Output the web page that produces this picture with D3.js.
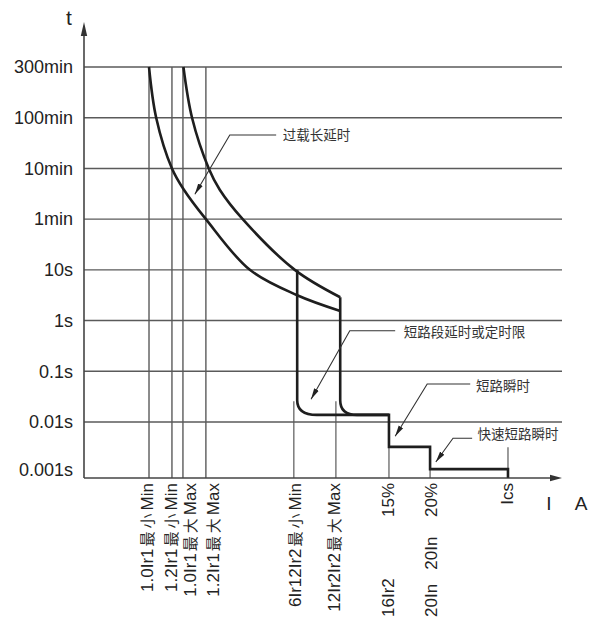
<!DOCTYPE html>
<html>
<head>
<meta charset="utf-8">
<script src="https://cdn.jsdelivr.net/npm/d3@7"></script>
<style>
html,body{margin:0;padding:0;background:#fff;}
svg{display:block;}
text{font-family:"Liberation Sans",Arial,"Noto Sans CJK SC",sans-serif;}
</style>
</head>
<body>
<svg id="chart" width="599" height="621"></svg>
<script>
// ---------- data ----------
const yTickLabels = ["0.001s","0.01s","0.1s","1s","10s","1min","10min","100min","300min"];
const gridLevels = [1,2,3,4,5,6,7,8];

// current positions on a notional axis (0..100)
const longPickups = [13.6, 18.4, 20.7, 25.5];
const longLabelPos = [13.2, 18.1, 22.2, 27.0];
const longLabels = ["1.0Ir1最小Min","1.2Ir1最小Min","1.0Ir1最大Max","1.2Ir1最大Max"];
const shortPickups = [43.9, 52.7];
const shortLabelPos = [44.2, 52.3];
const shortLabels = ["6Ir12Ir2最小Min","12Ir2Ir2最大Max"];
const instPickups = [63.8, 72.4, 88.7];
const instLabelPos = [63.6, 72.6, 88.4];
const instLabels = ["15%","20%","Ics"];
const instLabels2 = ["16Ir2","20In   20In",""];

// overload long-delay curves [current, time-level]
const overloadMin = [[13.6,8],[15.1,7],[18.4,6],[20.9,5.58],[25.5,5],[34.7,4],[44.6,3.5],[53.6,3.19]];
const overloadMax = [[20.8,8],[22.6,7],[26.1,6],[28.4,5.58],[33.2,5],[44.1,4],[53.6,3.46]];

// short-delay / instantaneous step characteristic
const shortMinVert = [[44.6,4.0],[44.6,1.43]];
const shortMinCorner = [[44.6,1.14],[48.7,1.14]];
const shortMaxVert = [[53.6,3.46],[53.6,1.43]];
const shortMaxCorner = [[53.6,1.14],[57.1,1.14]];
const steps = [[63.8,1.14],[63.8,0.51],[72.4,0.51],[72.4,0.07],[88.7,0.07],[88.7,-0.1]];

// annotations: text, arrow tip, elbow, end of horizontal leader
const notes = [
  {text:"过载长延时", tip:[23.2,5.49], elbow:[30.5,6.66], end:[40.2,6.66], at:[41.6,6.66]},
  {text:"短路段延时或定时限", tip:[47.5,1.45], elbow:[55.6,2.80], end:[65.1,2.80], at:[66.9,2.77]},
  {text:"短路瞬时", tip:[65.1,0.72], elbow:[71.8,1.75], end:[80.8,1.75], at:[82.0,1.70]},
  {text:"快速短路瞬时", tip:[73.6,0.21], elbow:[77.2,0.68], end:[81.2,0.68], at:[82.3,0.76]}
];

// ---------- layout ----------
const svg = d3.select("#chart");
const x = d3.scaleLinear().domain([0,100]).range([84,562]);
const y = d3.scaleLinear().domain([0,8]).range([472.7,67]);
const axisLevel = -0.105;
const gridColor = "#5a5a5a";
const inkColor = "#1e1e1e";

// grid lines
svg.append("g").selectAll("line").data(gridLevels).join("line")
  .attr("x1", x(0)).attr("x2", x(100))
  .attr("y1", d => y(d)).attr("y2", d => y(d))
  .attr("stroke", gridColor).attr("stroke-width", 1.4);

// vertical pickup lines
svg.append("g").selectAll("line").data(longPickups).join("line")
  .attr("x1", d => x(d)).attr("x2", d => x(d))
  .attr("y1", y(8)).attr("y2", y(axisLevel))
  .attr("stroke", gridColor).attr("stroke-width", 1.4);
svg.append("g").selectAll("line").data(shortPickups).join("line")
  .attr("x1", d => x(d)).attr("x2", d => x(d))
  .attr("y1", y(1.41)).attr("y2", y(axisLevel))
  .attr("stroke", gridColor).attr("stroke-width", 1.2);
svg.append("g").selectAll("line").data(instPickups).join("line")
  .attr("x1", d => x(d)).attr("x2", d => x(d))
  .attr("y1", y(0.5)).attr("y2", y(axisLevel))
  .attr("stroke", gridColor).attr("stroke-width", 1.2);

// y tick labels
const yAxis = d3.axisLeft(y).tickValues(d3.range(0,9)).tickFormat(i => yTickLabels[i]).tickSize(0).tickPadding(11);
const gy = svg.append("g").attr("transform", `translate(${x(0)},0)`).call(yAxis);
gy.select(".domain").remove();
gy.selectAll("text").attr("font-size", 18).attr("fill", "#222")
  .attr("font-family", "'Liberation Sans',Arial,sans-serif");
gy.selectAll(".tick").filter(d => d===0).select("text").attr("dy","0.15em");

// axes
svg.append("line").attr("x1", x(0)).attr("x2", x(0)).attr("y1", 33).attr("y2", y(axisLevel))
  .attr("stroke", "#444").attr("stroke-width", 1.6);
svg.append("line").attr("x1", x(0)).attr("x2", x(100)-8).attr("y1", y(axisLevel)).attr("y2", y(axisLevel))
  .attr("stroke", "#444").attr("stroke-width", 1.6);
svg.append("path").attr("d", `M${x(0)},22 L${x(0)-3.2},36 L${x(0)+3.2},36 Z`).attr("fill", "#333");
svg.append("path").attr("d", `M${x(100)},${y(axisLevel)} L${x(100)-12},${y(axisLevel)-3.2} L${x(100)-12},${y(axisLevel)+3.2} Z`).attr("fill", "#333");

svg.append("text").attr("x", 69).attr("y", 25).attr("text-anchor","middle")
  .attr("font-size", 21).attr("fill", "#222").text("t");
svg.append("text").attr("x", 549).attr("y", 510).attr("text-anchor","middle")
  .attr("font-size", 19).attr("fill", "#222").text("I");
svg.append("text").attr("x", 581).attr("y", 510).attr("text-anchor","middle")
  .attr("font-size", 19).attr("fill", "#222").text("A");

// curves
const line = d3.line().x(d => x(d[0])).y(d => y(d[1])).curve(d3.curveCatmullRom.alpha(0.5));
[overloadMin, overloadMax].forEach(c => {
  svg.append("path").attr("d", line(c)).attr("fill","none")
    .attr("stroke", inkColor).attr("stroke-width", 2.6);
});

function stepPath(vert, corner, rest) {
  const p = d3.path();
  p.moveTo(x(vert[0][0]), y(vert[0][1]));
  p.lineTo(x(vert[1][0]), y(vert[1][1]));
  p.quadraticCurveTo(x(corner[0][0]), y(corner[0][1]), x(corner[1][0]), y(corner[1][1]));
  rest.forEach(d => p.lineTo(x(d[0]), y(d[1])));
  return p.toString();
}
svg.append("path").attr("d", stepPath(shortMinVert, shortMinCorner, [steps[0]]))
  .attr("fill","none").attr("stroke", inkColor).attr("stroke-width", 2.6);
svg.append("path").attr("d", stepPath(shortMaxVert, shortMaxCorner, steps))
  .attr("fill","none").attr("stroke", inkColor).attr("stroke-width", 2.6).attr("stroke-linejoin","miter");

// annotations
svg.append("defs").append("marker").attr("id","arr")
  .attr("markerUnits","userSpaceOnUse").attr("markerWidth",12).attr("markerHeight",8)
  .attr("viewBox","0 -4 12 8").attr("refX",11).attr("refY",0).attr("orient","auto")
  .append("path").attr("d","M0,-2.6 L11,0 L0,2.6 Z").attr("fill","#222");

const gn = svg.append("g");
notes.forEach(n => {
  gn.append("polyline")
    .attr("points", [n.end, n.elbow, n.tip].map(d => `${x(d[0])},${y(d[1])}`).join(" "))
    .attr("fill","none").attr("stroke","#333").attr("stroke-width",1.1)
    .attr("marker-end","url(#arr)");
  gn.append("text").attr("x", x(n.at[0])).attr("y", y(n.at[1])).attr("dy","0.35em")
    .attr("font-size", 13.5).attr("fill","#333")
    .attr("font-family","'Noto Sans CJK SC',sans-serif").text(n.text);
});

// x labels (rotated), mixed Latin / CJK runs
function fillMixed(sel) {
  sel.each(function(d) {
    const t = d3.select(this);
    d.t.split(/([\u4e00-\u9fff]+)/).filter(s => s.length).forEach(s => {
      const sp = t.append("tspan").text(s);
      if (/[\u4e00-\u9fff]/.test(s)) {
        sp.attr("font-family","'Noto Sans CJK SC',sans-serif").attr("font-size",15)
          .attr("letter-spacing", 3).attr("dx", 2).attr("fill","#2a2a2a");
      }
    });
  });
}
const labelTop = 483, labelBottom = 617;
const topLabels = longLabelPos.map((d,i)=>({v:d,t:longLabels[i]}))
  .concat(shortLabelPos.map((d,i)=>({v:d,t:shortLabels[i]})))
  .concat(instLabelPos.map((d,i)=>({v:d,t:instLabels[i]})));
svg.append("g").selectAll("text").data(topLabels).join("text")
  .attr("transform", d => `translate(${x(d.v)},${labelTop}) rotate(-90)`)
  .attr("text-anchor","end").attr("dy","0.36em")
  .attr("font-size", 17).attr("fill","#222").call(fillMixed);
svg.append("g").selectAll("text").data(instLabelPos.map((d,i)=>({v:d,t:instLabels2[i]})).filter(d=>d.t)).join("text")
  .attr("transform", d => `translate(${x(d.v)},${labelBottom}) rotate(-90)`)
  .attr("text-anchor","start").attr("dy","0.36em").style("white-space","pre")
  .attr("font-size", 17).attr("fill","#222").text(d => d.t);
</script>
</body>
</html>
